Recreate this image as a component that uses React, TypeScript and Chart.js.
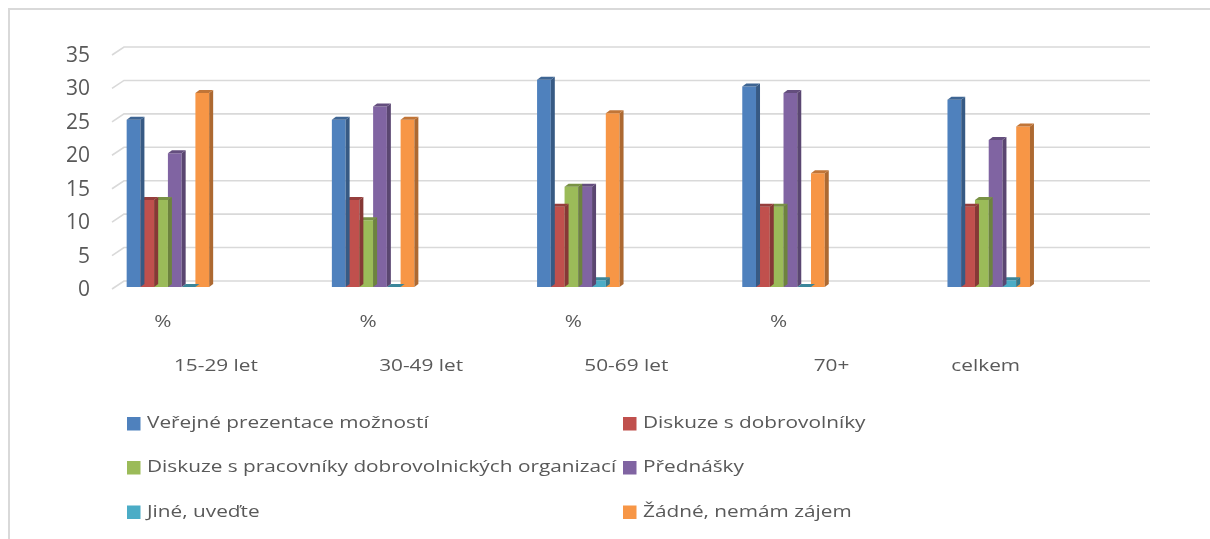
import React, { useEffect, useRef } from "react";
import { Chart, registerables } from "chart.js";

Chart.register(...registerables);

const categories = ["15-29 let", "30-49 let", "50-69 let", "70+", "celkem"];
const units = ["%", "%", "%", "%", ""];
const seriesNames = [
  "Veřejné prezentace možností",
  "Diskuze s dobrovolníky",
  "Diskuze s pracovníky dobrovolnických organizací",
  "Přednášky",
  "Jiné, uveďte",
  "Žádné, nemám zájem",
];
const verejne = [25, 25, 31, 30, 28];
const diskuzeDobrovolnici = [13, 13, 12, 12, 12];
const diskuzePracovnici = [13, 10, 15, 12, 13];
const prednasky = [20, 27, 15, 29, 22];
const jine = [0, 0, 1, 0, 1];
const zadne = [29, 25, 26, 17, 24];
const yTicks = [0, 5, 10, 15, 20, 25, 30, 35];

const colors = ["#4F81BD", "#C0504D", "#9BBB59", "#8064A2", "#4BACC6", "#F79646"];
const FONT = "'Open Sans', 'DejaVu Sans', sans-serif";
const TEXT = "#595959";
const TEXT_SX = 1.26;

function shade(hex: string, f: number) {
  const n = parseInt(hex.slice(1), 16);
  const r = Math.round(((n >> 16) & 255) * f);
  const g = Math.round(((n >> 8) & 255) * f);
  const b = Math.round((n & 255) * f);
  return `rgb(${r},${g},${b})`;
}

function wideText(ctx: CanvasRenderingContext2D, text: string, x: number, y: number, align: "left" | "center") {
  ctx.save();
  ctx.translate(x, y);
  ctx.scale(TEXT_SX, 1);
  ctx.textAlign = align;
  ctx.textBaseline = "middle";
  ctx.fillText(text, 0, 0);
  ctx.restore();
}

const DX = 4;
const DY = 3;

const bgPlugin = {
  id: "bgBorder",
  beforeDraw(chart: any) {
    const ctx = chart.ctx;
    ctx.save();
    ctx.fillStyle = "#ffffff";
    ctx.fillRect(0, 0, chart.width, chart.height);
    ctx.strokeStyle = "#d9d9d9";
    ctx.lineWidth = 2;
    ctx.strokeRect(9, 9, chart.width + 20, chart.height + 20);
    ctx.restore();
  },
};

const gridPlugin = {
  id: "grid3d",
  beforeDatasetsDraw(chart: any) {
    const ctx = chart.ctx;
    const y = chart.scales.y;
    const { left, right } = chart.chartArea;
    ctx.save();
    ctx.strokeStyle = "#d9d9d9";
    ctx.lineWidth = 1.6;
    yTicks.forEach((v) => {
      const yb = y.getPixelForValue(v) - 6;
      ctx.beginPath();
      ctx.moveTo(left - 12, yb + 8);
      ctx.lineTo(left, yb);
      ctx.lineTo(right, yb);
      ctx.stroke();
    });
    ctx.restore();
  },
};

const bar3dPlugin = {
  id: "bar3d",
  afterDatasetDraw(chart: any, args: any) {
    const ctx = chart.ctx;
    const meta = chart.getDatasetMeta(args.index);
    const color = colors[args.index];
    ctx.save();
    meta.data.forEach((el: any) => {
      const { x, y, base, width } = el.getProps(["x", "y", "base", "width"], true);
      const l = x - width / 2;
      const r = x + width / 2;
      ctx.fillStyle = shade(color, 0.7);
      ctx.beginPath();
      ctx.moveTo(r, y);
      ctx.lineTo(r + DX, y - DY);
      ctx.lineTo(r + DX, base - DY);
      ctx.lineTo(r, base);
      ctx.closePath();
      ctx.fill();
      ctx.fillStyle = shade(color, 0.78);
      ctx.beginPath();
      ctx.moveTo(l, y);
      ctx.lineTo(l + DX, y - DY);
      ctx.lineTo(r + DX, y - DY);
      ctx.lineTo(r, y);
      ctx.closePath();
      ctx.fill();
    });
    ctx.restore();
  },
};

const labelPlugin = {
  id: "xLabels",
  afterDraw(chart: any) {
    const ctx = chart.ctx;
    const xs = chart.scales.x;
    ctx.save();
    ctx.fillStyle = TEXT;
    ctx.font = `16.5px ${FONT}`;
    categories.forEach((c, i) => {
      const cx = xs.getPixelForValue(i);
      if (units[i]) {
        wideText(ctx, units[i], cx - 5, 322, "center");
        wideText(ctx, c, cx + 48, 366, "center");
      } else {
        wideText(ctx, c, cx - 3, 366, "center");
      }
    });
    ctx.restore();
  },
};

const legendPlugin = {
  id: "gridLegend",
  afterDraw(chart: any) {
    const ctx = chart.ctx;
    const colX = [127, 623];
    const rowY = [423.5, 467.5, 512];
    ctx.save();
    ctx.font = `16.5px ${FONT}`;
    chart.data.datasets.forEach((ds: any, i: number) => {
      const x = colX[i % 2];
      const y = rowY[Math.floor(i / 2)];
      ctx.fillStyle = ds.backgroundColor;
      ctx.fillRect(x, y - 6.5, 13.5, 13.5);
      ctx.fillStyle = TEXT;
      wideText(ctx, ds.label, x + 20, y, "left");
    });
    ctx.restore();
  },
};

export default function App() {
  const ref = useRef<HTMLCanvasElement>(null);
  useEffect(() => {
    const seriesValues = [verejne, diskuzeDobrovolnici, diskuzePracovnici, prednasky, jine, zadne];
    const chart = new Chart(ref.current as HTMLCanvasElement, {
      type: "bar",
      data: {
        datasets: seriesValues.map((vals, s) => ({
          label: seriesNames[s],
          data: vals.map((v, i) => ({ x: i, y: v })),
          backgroundColor: colors[s],
          borderWidth: 0,
          barPercentage: 1,
          categoryPercentage: 0.402,
        })),
      },
      options: {
        responsive: false,
        animation: false,
        layout: { padding: { left: 0, right: 60, top: 53, bottom: 252 } },
        plugins: { legend: { display: false }, tooltip: { enabled: false } },
        scales: {
          x: {
            type: "linear",
            display: false,
            min: -0.214,
            max: 4.786,
            offset: false,
            grid: { display: false },
            afterBuildTicks(scale: any) {
              scale.ticks = categories.map((_, i) => ({ value: i }));
            },
          },
          y: {
            min: 0,
            max: 35,
            grid: { display: false, drawTicks: false },
            border: { display: false },
            afterFit(scale: any) {
              scale.width = 124;
            },
            afterBuildTicks(scale: any) {
              scale.ticks = yTicks.map((v) => ({ value: v }));
            },
            ticks: {
              color: TEXT,
              padding: 34,
              labelOffset: 3,
              font: { size: 21, family: FONT },
            },
          },
        },
      },
      plugins: [bgPlugin, gridPlugin, bar3dPlugin, labelPlugin, legendPlugin],
    } as any);
    return () => chart.destroy();
  }, []);
  return (
    <div style={{ position: "fixed", left: 0, top: 0, width: 1210, height: 539, background: "#fff" }}>
      <canvas ref={ref} width={1210} height={539} style={{ display: "block" }} />
    </div>
  );
}
